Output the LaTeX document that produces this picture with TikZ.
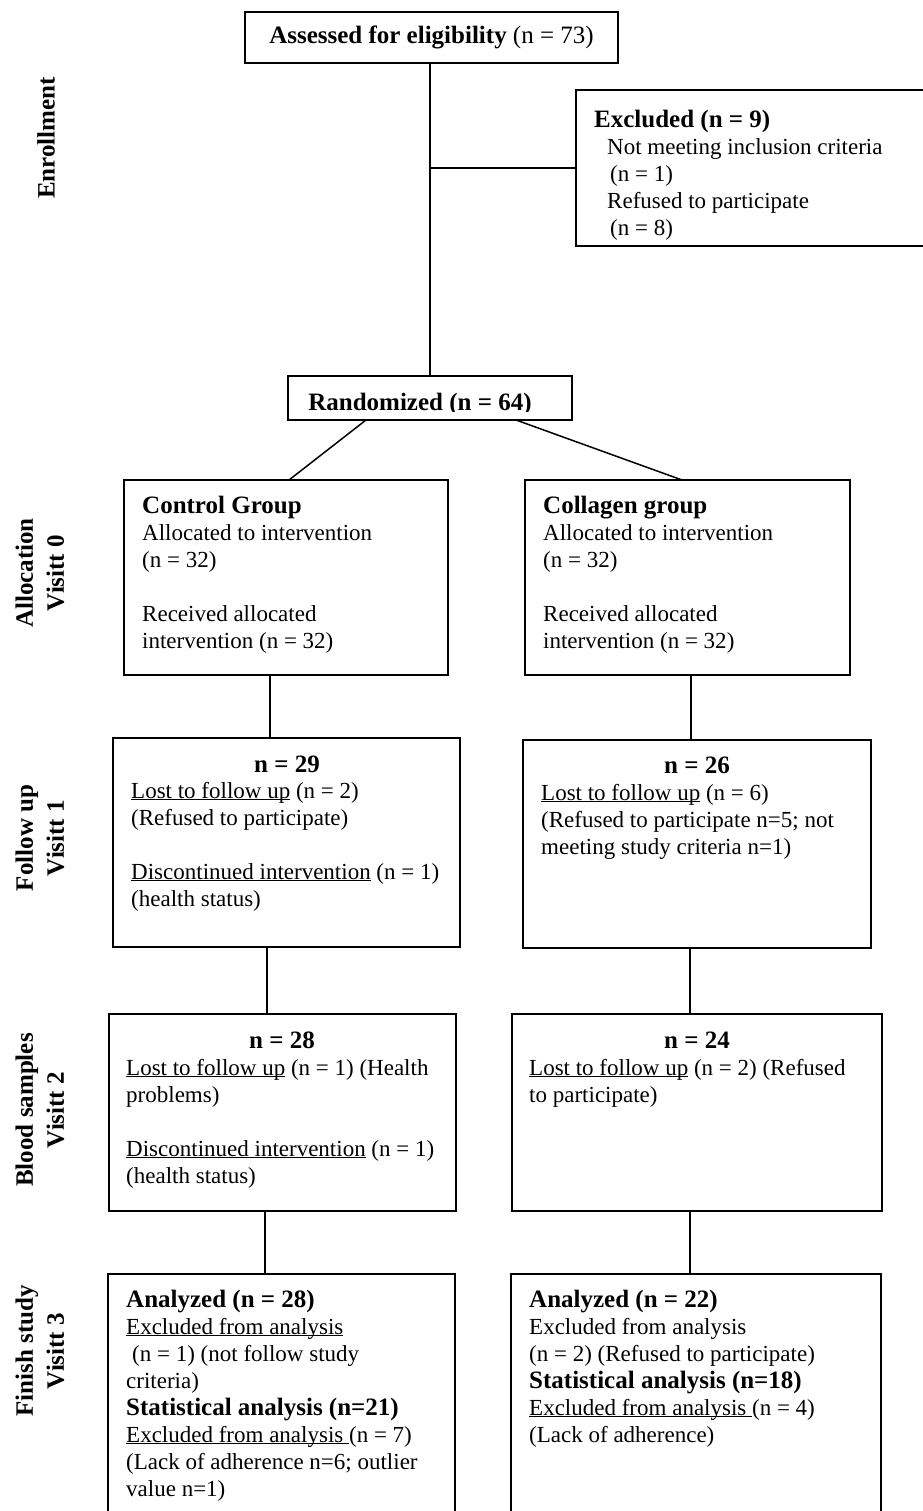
\documentclass[tikz,border=0pt]{standalone}
\usepackage{fontspec}
\setmainfont{Liberation Serif}
\usetikzlibrary{calc}
\newcommand\myul[1]{\underline{\smash{#1}}}
\newcommand\mystrut{\rule{0pt}{20pt}}
\newcommand\hdf{\fontsize{25}{27}\selectfont\bfseries}
\begin{document}
\begin{tikzpicture}[x=1pt,y=-1pt,
  box/.style={draw, line width=1.5pt, inner sep=0pt, outer sep=0pt, anchor=north west},
  txt/.style={font=\fontsize{23}{27}\selectfont, align=left, inner sep=0pt, anchor=north west},
  hd/.style={font=\hdf, inner sep=0pt},
  lab/.style={font=\fontsize{25}{31}\selectfont\bfseries, align=center, rotate=90, inner sep=0pt},
  conn/.style={line width=1.5pt}]
\useasboundingbox (0,0) rectangle (922,1511);

% side labels
\node[lab] (lenr) at (46,138) {Enrollment};
\node[lab] (lalloc) at (40,573) {Allocation\\Visitt 0};
\node[lab] (lfu) at (40,838) {Follow up\\Visitt 1};
\node[lab] (lbs) at (40,1110) {Blood samples\\Visitt 2};
\node[lab] (lfin) at (40,1351) {Finish study\\Visitt 3};

% enrollment
\node[box, minimum width=373, minimum height=51, font=\hdf] (assess) at (245,12) {Assessed for eligibility \mdseries(n = 73)};
\node[box, minimum width=360, minimum height=156] (excl) at (576,90) {};
\node[txt] (exclT) at (594,107) {\mystrut{\hdf Excluded (n = 9)}\\
  \hspace*{13pt}Not meeting inclusion criteria\\
  \hspace*{16pt}(n = 1)\\
  \hspace*{13pt}Refused to participate\\
  \hspace*{16pt}(n = 8)};

\node[box, minimum width=284, minimum height=44] (rand) at (288,376) {};
\begin{scope}
  \clip (rand.north west) rectangle ([yshift=9pt]rand.south east);
  \node[hd, anchor=base] (randT) at (420,410) {Randomized (n = 64)};
\end{scope}

% allocation
\node[box, minimum width=324, minimum height=195] (ctl0) at (124,480) {};
\node[txt] (ctl0T) at (142,493) {\mystrut{\hdf Control Group}\\
  Allocated to intervention\\
  (n = 32)\\[27pt]
  Received allocated\\
  intervention (n = 32)};
\node[box, minimum width=325, minimum height=195] (col0) at (525,480) {};
\node[txt] (col0T) at (543,493) {\mystrut{\hdf Collagen group}\\
  Allocated to intervention\\
  (n = 32)\\[27pt]
  Received allocated\\
  intervention (n = 32)};

% follow up 1
\node[box, minimum width=347, minimum height=209] (ctl1) at (113,738) {};
\node[hd, anchor=base] (ctl1H) at (287,772) {n = 29};
\node[txt] (ctl1T) at (131,778) {\mystrut\myul{Lost to follow up} (n = 2)\\
  (Refused to participate)\\[27pt]
  \myul{Discontinued intervention} (n = 1)\\
  (health status)};
\node[box, minimum width=348, minimum height=208] (col1) at (523,740) {};
\node[hd, anchor=base] (col1H) at (697,773) {n = 26};
\node[txt] (col1T) at (541,780) {\mystrut\myul{Lost to follow up} (n = 6)\\
  (Refused to participate n=5; not\\
  meeting study criteria n=1)};

% blood samples 2
\node[box, minimum width=347, minimum height=197] (ctl2) at (109,1014) {};
\node[hd, anchor=base] (ctl2H) at (282,1048) {n = 28};
\node[txt] (ctl2T) at (126,1055) {\mystrut\myul{Lost to follow up} (n = 1) (Health\\
  problems)\\[27pt]
  \myul{Discontinued intervention} (n = 1)\\
  (health status)};
\node[box, minimum width=370, minimum height=197] (col2) at (512,1014) {};
\node[hd, anchor=base] (col2H) at (697,1048) {n = 24};
\node[txt] (col2T) at (529,1055) {\mystrut\myul{Lost to follow up} (n = 2) (Refused\\
  to participate)};

% finish 3
\node[box, minimum width=347, minimum height=260] (ctl3) at (108,1274) {};
\node[txt] (ctl3T) at (126,1287) {\mystrut{\hdf Analyzed (n = 28)}\\
  \myul{Excluded from analysis}\\
  \hspace*{6pt}(n = 1) (not follow study\\
  criteria)\\
  {\hdf Statistical analysis (n=21)}\\
  \myul{Excluded from analysis\ }(n = 7)\\
  (Lack of adherence n=6; outlier\\
  value n=1)};
\node[box, minimum width=370, minimum height=260] (col3) at (511,1274) {};
\node[txt] (col3T) at (529,1287) {\mystrut{\hdf Analyzed (n = 22)}\\
  Excluded from analysis\\
  (n = 2) (Refused to participate)\\
  {\hdf Statistical analysis (n=18)}\\
  \myul{Excluded from analysis\ }(n = 4)\\
  (Lack of adherence)};

% connectors
\draw[conn] ([xshift=-1.5pt]assess.south) -- ([xshift=-1.5pt]assess.south |- rand.north);
\draw[conn] ([xshift=-1.5pt]assess.south |- excl.west) -- (excl.west);
\coordinate (r1) at ($(rand.south west)+(78,0)$);
\coordinate (r2) at ($(rand.south west)+(228,0)$);
\coordinate (c0top) at ($(ctl0.north west)+(165,0)$);
\coordinate (k0top) at ($(col0.north west)+(157,0)$);
\draw[conn] (r1) -- (c0top);
\draw[conn] (r2) -- (k0top);
\draw[conn] ([xshift=-16pt]ctl0.south) -- ([xshift=-16pt]ctl0.south |- ctl1.north);
\draw[conn] ([xshift=3.5pt]col0.south) -- ([xshift=3.5pt]col0.south |- col1.north);
\draw[conn] ([xshift=-19.5pt]ctl1.south) -- ([xshift=-19.5pt]ctl1.south |- ctl2.north);
\draw[conn] ([xshift=-7pt]col1.south) -- ([xshift=-7pt]col1.south |- col2.north);
\draw[conn] ([xshift=-17.5pt]ctl2.south) -- ([xshift=-17.5pt]ctl2.south |- ctl3.north);
\draw[conn] ([xshift=-7pt]col2.south) -- ([xshift=-7pt]col2.south |- col3.north);
\end{tikzpicture}
\end{document}
